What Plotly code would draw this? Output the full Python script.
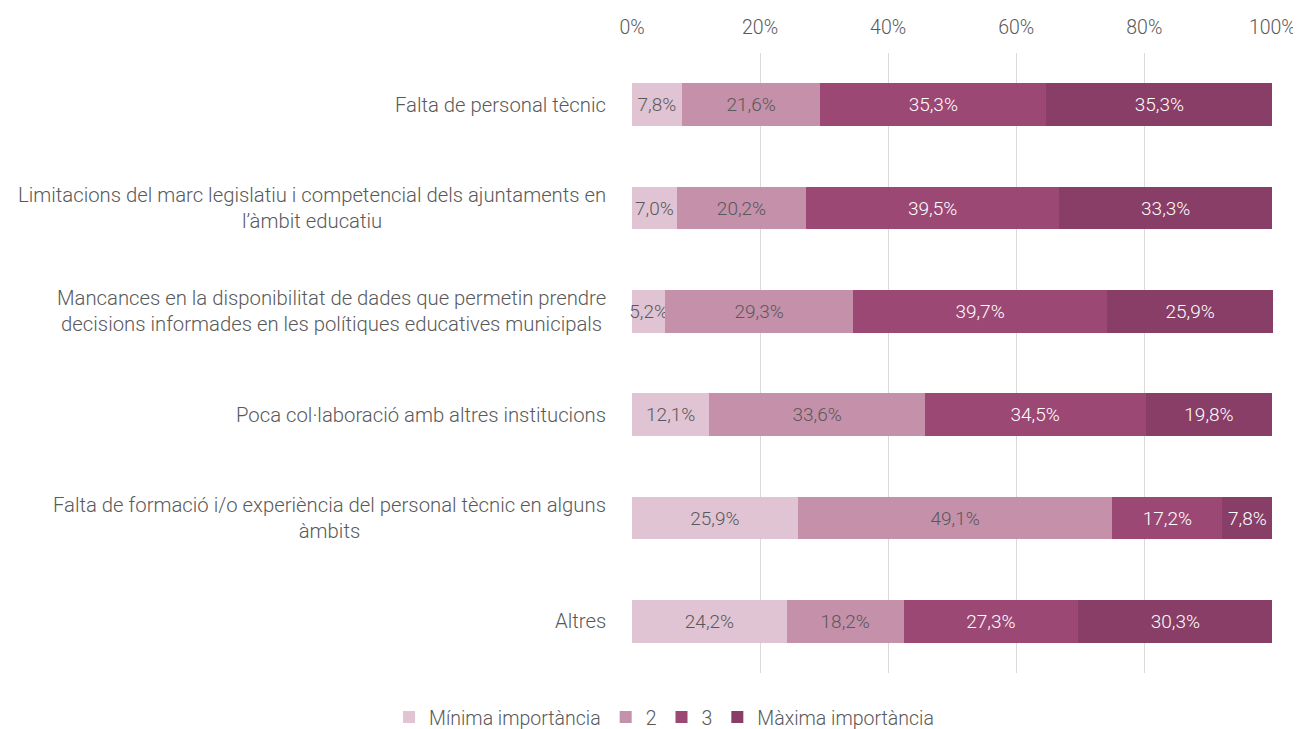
import plotly.graph_objects as go

# categories (top to bottom) and label text as drawn
categories = [
    "Falta de personal tècnic",
    "Limitacions del marc legislatiu i competencial dels ajuntaments en<br>l’àmbit educatiu",
    "Mancances en la disponibilitat de dades que permetin prendre<br>decisions informades en les polítiques educatives municipals",
    "Poca col·laboració amb altres institucions",
    "Falta de formació i/o experiència del personal tècnic en alguns<br>àmbits",
    "Altres",
]
series_names = ["Mínima importància", "2", "3", "Màxima importància"]
minima = [7.8, 7.0, 5.2, 12.1, 25.9, 24.2]
dos = [21.6, 20.2, 29.3, 33.6, 49.1, 18.2]
tres = [35.3, 39.5, 39.7, 34.5, 17.2, 27.3]
maxima = [35.3, 33.3, 25.9, 19.8, 7.8, 30.3]
x_ticks = [0, 20, 40, 60, 80, 100]

colors = ["#e0c4d4", "#c490aa", "#9c4874", "#883e66"]
text_colors = ["#595959", "#595959", "#ffffff", "#ffffff"]
FONT = "Roboto"
GRAY = "#595959"

ids = list(range(len(categories)))
fig = go.Figure()
for name, vals, col, tcol in zip(series_names, [minima, dos, tres, maxima], colors, text_colors):
    fig.add_trace(go.Bar(
        y=ids, x=vals, name=name, orientation="h",
        marker=dict(color=col, line=dict(width=0)),
        text=[f"{v:.1f}%".replace(".", ",") for v in vals],
        textposition="inside", insidetextanchor="middle", textangle=0,
        textfont=dict(color=tcol, size=19, family=FONT, weight=300),
        constraintext="none", cliponaxis=False,
    ))

# category labels, centred on each line like the original
for i, c in enumerate(categories):
    fig.add_annotation(
        x=0, xref="paper", xshift=-24, y=i, yref="y",
        text=c, showarrow=False, xanchor="right", align="center",
        font=dict(size=20.3, color=GRAY, family=FONT, weight=300),
    )

# rounded shares add up to 100.1 in one row, keep it inside the axis
xmax = max(a + b + c + d for a, b, c, d in zip(minima, dos, tres, maxima))

# page body has an 8px margin, so the figure is sized to the visible area
fig.update_layout(
    barmode="stack", bargap=0.59,
    width=1293, height=721,
    margin=dict(l=624, r=28, t=45, b=56, autoexpand=False),
    plot_bgcolor="white", paper_bgcolor="white",
    font=dict(family=FONT, color=GRAY, size=19, weight=300),
    legend=dict(orientation="h", x=0.05, xanchor="center", y=-0.04, yanchor="top",
                font=dict(size=19.5, color=GRAY, family=FONT, weight=300),
                traceorder="normal", itemwidth=30),
    showlegend=True,
)
fig.update_xaxes(
    side="top", range=[0, max(100, xmax)], tickvals=x_ticks,
    ticktext=[f"{t}%" for t in x_ticks],
    showgrid=True, gridcolor="#d9d9d9", gridwidth=1,
    zeroline=False, showline=False, ticks="", automargin=False,
    ticklabelstandoff=14,
    tickfont=dict(size=19.5, color=GRAY, family=FONT, weight=300),
)
fig.update_yaxes(
    range=[5.5, -0.5], showticklabels=False, showgrid=False,
    zeroline=False, showline=False, ticks="", automargin=False,
)

fig.write_html("out.html")
